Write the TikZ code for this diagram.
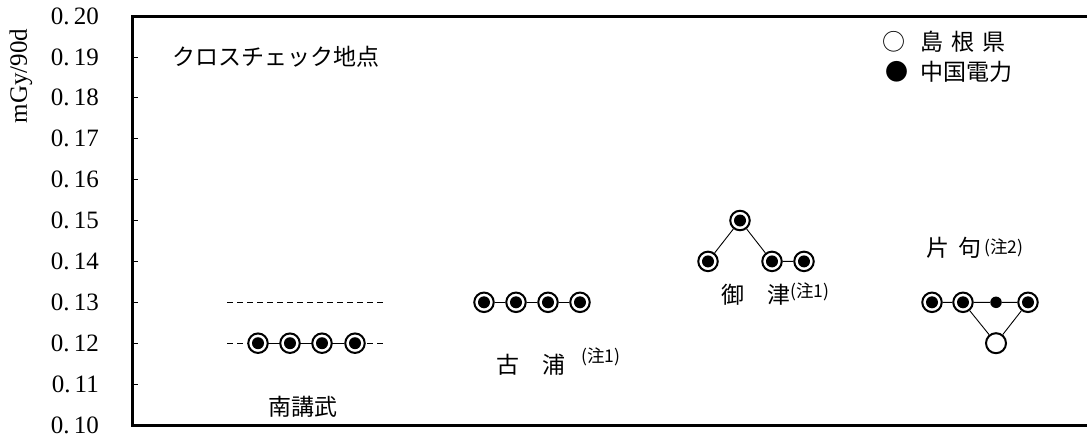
\documentclass[tikz,border=0pt]{standalone}
\usepackage{fontspec}
\setmainfont{Liberation Serif}
\newfontfamily\jp{Noto Sans CJK JP}
\begin{document}
\begin{tikzpicture}[x=1pt,y=-1pt,
  dbl/.style={circle,draw,line width=2pt,minimum size=19.5pt,inner sep=0pt,fill=white,
    path picture={\fill[black] (path picture bounding box.center) circle (6pt);}},
  opn/.style={circle,draw,line width=2pt,minimum size=20pt,inner sep=0pt,fill=white},
  sdot/.style={circle,fill=black,minimum size=11.5pt,inner sep=0pt},
  conn/.style={line width=0.9pt},
  dsh/.style={line width=0.9pt,dash pattern=on 6pt off 4pt},
  tick/.style={font=\fontsize{25}{27}\selectfont,anchor=east,inner sep=0pt},
  jt/.style={font=\jp\fontsize{23}{25}\selectfont,inner sep=0pt},
  note/.style={font=\jp\fontsize{17.5}{19}\selectfont,inner sep=0pt,anchor=west}]
\useasboundingbox (0,0) rectangle (1087,439);
% frame
\begin{scope}
\clip (0,0) rectangle (1087,439);
\draw[line width=3pt] (132,16) rectangle (1100,425);
\end{scope}
% ticks and labels
\foreach \i/\v in {0/20,1/19,2/18,3/17,4/16,5/15,6/14,7/13,8/12,9/11,10/10}{
  \pgfmathsetmacro{\yy}{16+40.9*\i}
  \node[tick] (t\i) at (99,\yy) {0.\,\v};
  \ifnum\i>0 \ifnum\i<10 \draw[line width=0.8pt] (132,\yy) -- (138,\yy); \fi\fi
}
\node[font=\fontsize{25}{27}\selectfont,rotate=90,inner sep=0pt] (yl) at (21,76) {mGy/90d};
% title and legend
\node[jt,anchor=west] (title) at (172,57) {クロスチェック地点};
\node[jt] (lo) at (894,42) {○};
\node[jt,anchor=west] (lol) at (920,42) {島\hspace{8pt}根\hspace{8pt}県};
\node[jt] (lf) at (897,72) {●};
\node[jt,anchor=west] (lfl) at (920,72) {中国電力};
% 南講武
\coordinate (d13a) at (227,302.3);
\coordinate (d13b) at (385,302.3);
\coordinate (d12a) at (227,343.2);
\coordinate (d12b) at (385,343.2);
\draw[dsh] (d13a) -- (d13b);
\draw[dsh] (d12a) -- (d12b);
\node[dbl] (n1) at (258,343.2) {};
\node[dbl] (n2) at (290,343.2) {};
\node[dbl] (n3) at (322,343.2) {};
\node[dbl] (n4) at (355,343.2) {};
\draw[conn] (n1) -- (n2) (n2) -- (n3) (n3) -- (n4);
\node[jt] (ln) at (303,407) {南講武};
% 古浦
\node[dbl] (k1) at (484,302.3) {};
\node[dbl] (k2) at (516,302.3) {};
\node[dbl] (k3) at (548,302.3) {};
\node[dbl] (k4) at (580,302.3) {};
\draw[conn] (k1) -- (k2) (k2) -- (k3) (k3) -- (k4);
\node[jt] (lk) at (531,365) {古　浦};
\node[note] (lkn) at (581,357) {(注1)};
% 御津
\node[dbl] (m0) at (740,220.5) {};
\node[dbl] (m1) at (708,261.4) {};
\node[dbl] (m3) at (772,261.4) {};
\node[dbl] (m4) at (804,261.4) {};
\draw[conn] (m1) -- (m0) (m0) -- (m3) (m3) -- (m4);
\node[jt] (lm) at (756,295) {御　津};
\node[note] (lmn) at (790,292) {(注1)};
% 片句
\node[dbl] (p1) at (932,302.3) {};
\node[dbl] (p2) at (963,302.3) {};
\node[sdot] (pd) at (996,302.3) {};
\node[dbl] (p4) at (1028,302.3) {};
\node[opn] (po) at (996,343.2) {};
\draw[conn] (p1) -- (p2) (p2) -- (pd) (pd) -- (p4) (p2) -- (po) (po) -- (p4);
\node[jt] (lp) at (954,248) {片\hspace{9pt}句};
\node[note] (lpn) at (984,248) {(注2)};
\end{tikzpicture}
\end{document}
